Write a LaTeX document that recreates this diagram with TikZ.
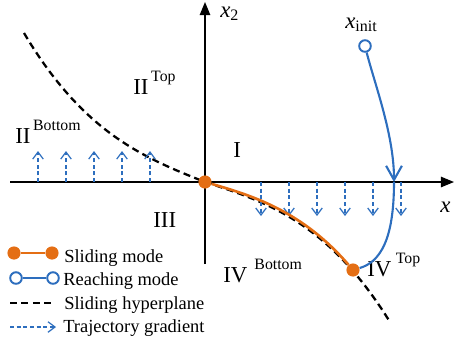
\documentclass[tikz,border=0pt]{standalone}
\usepackage{fontspec}
\setmainfont{Liberation Serif}
\usetikzlibrary{arrows.meta}

\definecolor{slideorange}{RGB}{228,110,20}
\definecolor{reachblue}{RGB}{45,110,190}

\newcommand{\regionlabel}[3][1.5pt]{{\fontsize{13}{15}\selectfont #2}\hspace{#1}\raisebox{7pt}{\fontsize{9}{10}\selectfont #3}}

\tikzset{
  axis/.style={line width=0.7pt, -{Triangle[length=7.5pt,width=6pt]}},
  hyperplane/.style={line width=1.3pt, dash pattern=on 4pt off 2.5pt},
  sliding/.style={slideorange, line width=1.5pt},
  reaching/.style={reachblue, line width=1.2pt},
  gradient/.style={reachblue, line width=0.7pt, dash pattern=on 2.2pt off 1.6pt, -{Straight Barb[length=4pt,width=6pt]}},
  slidedot/.style={circle, fill=slideorange, inner sep=0pt, minimum size=7.5pt},
  reachdot/.style={circle, draw=reachblue, fill=white, line width=1.1pt, inner sep=0pt, minimum size=6.6pt},
  legendtext/.style={anchor=base west, inner sep=0pt, font=\fontsize{10.5}{12}\selectfont},
  regiontext/.style={anchor=base west, inner sep=0pt},
}

\begin{document}
\begin{tikzpicture}[x=0.02cm, y=-0.02cm]
\useasboundingbox (0,0) rectangle (456,343);
% axes
\draw[axis] (10,182) -- (454,182);
\draw[axis] (205,264) -- (205,2);
\node[regiontext, font=\fontsize{13}{15}\selectfont] (x2label) at (220,17) {\textit{x}\textsubscript{2}};
\node[regiontext, font=\fontsize{13}{15}\selectfont] (x1label) at (440,212) {\textit{x}};
% regions
\node[regiontext] (regIItop) at (133,94) {\regionlabel{II}{Top}};
\node[regiontext] (regIIbot) at (15,143) {\regionlabel{II}{Bottom}};
\node[regiontext, font=\fontsize{13}{15}\selectfont] (regI) at (233,157) {I};
\node[regiontext, font=\fontsize{13}{15}\selectfont] (regIII) at (153,227) {III};
\node[regiontext] (regIVbot) at (223,282) {\regionlabel[4pt]{IV}{Bottom}};
\node[regiontext] (regIVtop) at (367,276) {\regionlabel[2.5pt]{IV}{Top}};
% sliding hyperplane
\draw[hyperplane] (24,33) .. controls (84,134) and (145,158) .. (205,182) .. controls (267,202) and (328,222) .. (390,322);
% trajectory gradient
\draw[gradient] (38,182) -- (38,151);
\draw[gradient] (66,182) -- (66,151);
\draw[gradient] (94,182) -- (94,151);
\draw[gradient] (122,182) -- (122,151);
\draw[gradient] (150,182) -- (150,151);
\draw[gradient] (261,182) -- (261,216);
\draw[gradient] (289,182) -- (289,216);
\draw[gradient] (317,182) -- (317,216);
\draw[gradient] (345,182) -- (345,216);
\draw[gradient] (373,182) -- (373,216);
\draw[gradient] (401,182) -- (401,216);
% trajectory
\node[slidedot] (origin) at (205,182) {};
\node[slidedot] (slideend) at (353,270) {};
\node[reachdot] (init) at (365,46) {};
\node[regiontext, font=\fontsize{13}{15}\selectfont] (initlabel) at (345,28) {\textit{x}\textsubscript{init}};
\coordinate (cross) at (394,182);
\draw[sliding] (origin) .. controls (254,196) and (303,212) .. (slideend);
\draw[reaching, -{Straight Barb[length=8pt,width=9pt]}] (init) .. controls (375,85) and (394,135) .. (cross);
\draw[reaching] (cross) .. controls (394,240) and (380,262) .. (slideend);
% legend
\node[slidedot] (legslideA) at (14,253) {};
\node[slidedot] (legslideB) at (52,253) {};
\draw[sliding] (legslideA) -- (legslideB);
\node[legendtext] (legslide) at (64,262) {Sliding mode};
\node[reachdot] (legreachA) at (16,278) {};
\node[reachdot] (legreachB) at (53,278) {};
\draw[reaching] (legreachA) -- (legreachB);
\node[legendtext] (legreach) at (63,285) {Reaching mode};
\coordinate (leghypA) at (10,303);
\coordinate (leghypB) at (52,303);
\draw[hyperplane] (leghypA) -- (leghypB);
\node[legendtext] (leghyp) at (64,309) {Sliding hyperplane};
\coordinate (leggradA) at (10,327);
\coordinate (leggradB) at (56,327);
\draw[gradient] (leggradA) -- (leggradB);
\node[legendtext] (leggrad) at (63,332) {Trajectory gradient};
\end{tikzpicture}
\end{document}
